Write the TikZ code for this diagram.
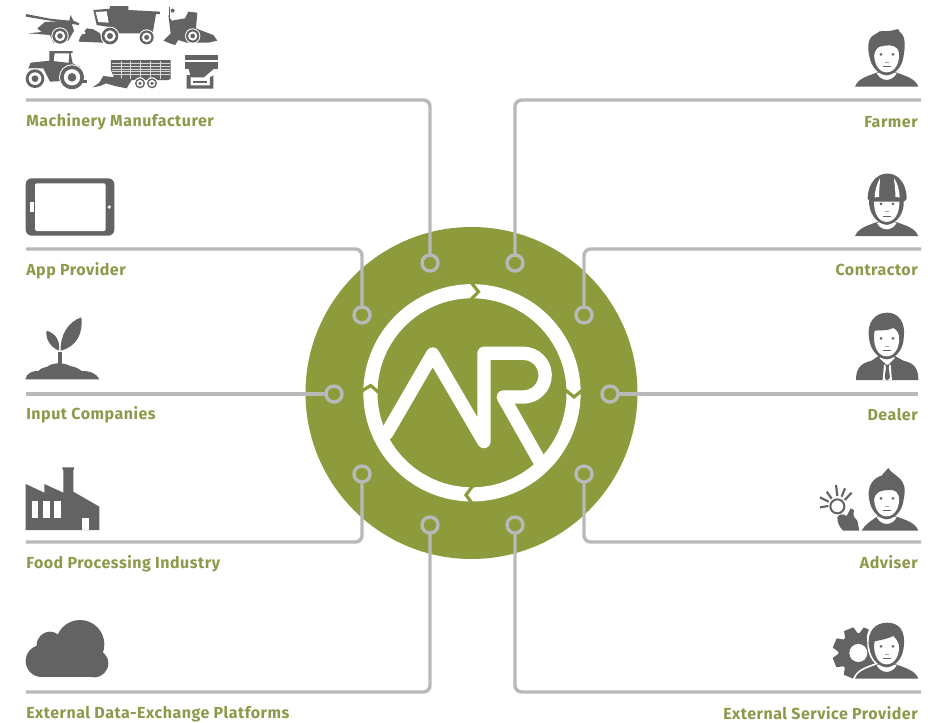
\documentclass[tikz,border=0pt]{standalone}
\usepackage{fontspec}
\setmainfont{Fira Sans}[LetterSpace=3.2]
\definecolor{olive}{HTML}{8E9B3D}
\definecolor{wire}{HTML}{B9B9B9}
\definecolor{ic}{HTML}{636363}
\definecolor{lab}{HTML}{8B9B4B}
\tikzset{
  conn/.style={draw=wire,line width=2.6pt,rounded corners=5pt},
  ringn/.style={circle,draw=wire,line width=2.5pt,minimum size=12pt,inner sep=0pt,outer sep=0pt},
  lableft/.style={anchor=base west,text=lab,inner sep=0pt,font=\fontsize{12}{14}\selectfont\bfseries},
  labright/.style={anchor=base east,text=lab,inner sep=0pt,font=\fontsize{12}{14}\selectfont\bfseries},
  logo/.style={draw=white,line width=10pt,line cap=round,line join=round},
  notch/.style={draw=olive,line width=2.4pt,line join=miter}
}
\newcommand{\wheelB}[3]{%
  \fill[white] (#1,#2) circle ({#3+3});
  \fill[ic] (#1,#2) circle (#3);
  \fill[white] (#1,#2) circle ({#3*0.68});
  \fill[ic] (#1,#2) circle ({#3*0.36});
}
\newcommand{\faceB}[1]{%
  \fill[ic] (207,120) .. controls (205,160) and (230,194) .. (260,196) .. controls (290,194) and (315,160) .. (311,120) -- cycle;
  \fill[white] (222,120) .. controls (220,165) and (238,187) .. (260,187) .. controls (282,187) and (300,165) .. (298,120) .. controls (298,98) and (222,98) .. (222,120) -- cycle;
  #1
  \fill[ic] (243,133) circle (4.5);
  \fill[ic] (279,133) circle (4.5);
  \fill[ic!60] (255,155) rectangle (267,157);
  \fill[ic] (250,169) rectangle (272,172);
}
\newcommand{\bodyB}{%
  \fill[ic] (165,230) .. controls (175,204) and (205,198) .. (232,187) -- (288,187) .. controls (315,198) and (345,204) .. (355,230) -- cycle;
  \fill[white] (230,190) .. controls (245,216) and (275,216) .. (290,190) -- (270,185) -- (250,185) -- cycle;
}
\begin{document}
\begin{tikzpicture}[x=0.75pt,y=-0.75pt]
\path[use as bounding box,fill=white] (0,0) rectangle (936,722);

% central disc
\fill[olive] (471.5,393) circle (166);
\draw[white,line width=10.6pt] (472,392.8) circle (101.6);
% AR logo
\draw[logo] (386.7,433.3) -- (432.7,354) -- (484,441.7) -- (484,353.3) -- (523.3,353.3)
  arc[start angle=-90,end angle=90,radius=21.85] -- (503.3,397) -- (540,461.7);
% chevrons in the ring
\draw[notch] (471.5,283) -- (478.5,291.7) -- (469.5,301);
\draw[notch] (565.5,390) -- (574,397) -- (582.5,390);
\draw[notch] (473,485.5) -- (466,495) -- (473,504.5);
\draw[notch] (361,391.5) -- (370.7,385.5) -- (380,393.5);

% connector ends
\coordinate (c1) at (26,100);
\coordinate (c2) at (26,249);
\coordinate (c3) at (26,394);
\coordinate (c4) at (26,542);
\coordinate (c5) at (26,692);
\coordinate (c6) at (921,100);
\coordinate (c7) at (921,249);
\coordinate (c8) at (918,394);
\coordinate (c9) at (921,542);
\coordinate (c10) at (921,692);
% ring nodes
\node[ringn] (r1) at (430,263) {};
\node[ringn] (r2) at (362,315) {};
\node[ringn] (r3) at (334,394) {};
\node[ringn] (r4) at (362,474) {};
\node[ringn] (r5) at (430,525) {};
\node[ringn] (r6) at (515,263) {};
\node[ringn] (r7) at (584,315) {};
\node[ringn] (r8) at (610,394) {};
\node[ringn] (r9) at (584,474) {};
\node[ringn] (r10) at (515,525) {};
% connectors
\draw[conn] (c1) -| (r1.north);
\draw[conn] (c2) -| (r2.north);
\draw[conn] (c3) -- (r3.west);
\draw[conn] (c4) -| (r4.south);
\draw[conn] (c5) -| (r5.south);
\draw[conn] (c6) -| (r6.north);
\draw[conn] (c7) -| (r7.north);
\draw[conn] (c8) -- (r8.east);
\draw[conn] (c9) -| (r9.south);
\draw[conn] (c10) -| (r10.south);

% labels
\node[lableft] (l1) at (26,126.5) {Machinery Manufacturer};
\node[lableft] (l2) at (26,275) {App Provider};
\node[lableft] (l3) at (26,419) {Input Companies};
\node[lableft] (l4) at (26,568) {Food Processing Industry};
\node[lableft] (l5) at (26,718) {External Data-Exchange Platforms};
\node[labright] (l6) at (918,127) {Farmer};
\node[labright] (l7) at (918,275) {Contractor};
\node[labright] (l8) at (918,420) {Dealer};
\node[labright] (l9) at (918,568) {Adviser};
\node[labright] (l10) at (918,719) {External Service Provider};

% machinery icons
\begin{scope}[scale=1/3]
  % sprayer
  \fill[ic] (78,42) -- (150,56) -- (208,62) -- (212,45) -- (220,62) -- (238,70) -- (236,75) -- (150,62) -- (78,50) -- cycle;
  \fill[ic] (85,100) -- (125,96) -- (112,85) -- (135,66) -- (212,62) -- (222,92) -- (205,122) -- (160,128) -- (150,105) -- cycle;
  \wheelB{180}{108}{23}
  % combine
  \fill[ic] (280,30) -- (330,26) -- (330,18) -- (385,18) -- (385,30) -- (480,35) -- (480,42) -- (468,42) -- (458,100) -- (345,100) -- (335,82) -- (290,75) -- cycle;
  \fill[white] (287,36) -- (320,34) -- (326,68) -- (295,66) -- cycle;
  \fill[ic] (236,125) -- (240,112) -- (260,85) -- (280,88) -- (300,100) -- (310,128) -- cycle;
  \fill[white] (252,98) circle (5);
  \wheelB{330}{108}{25}
  \wheelB{440}{112}{21}
  % planter
  \fill[ic] (505,45) -- (515,62) -- (555,55) -- (565,35) -- (592,38) -- (588,85) -- (600,90) -- (640,105) -- (652,122) -- (625,128) -- (560,128) -- (535,120) -- (525,135) -- (510,130) -- (490,122) -- (512,100) -- cycle;
  \fill[ic] (506,20) rectangle (510,50);
  \fill[ic] (518,32) circle (6);
  \wheelB{578}{108}{20}
  % tractor
  \fill[ic] (148,153) -- (218,153) -- (218,158) -- (212,160) -- (220,200) -- (205,200) -- (208,160) -- (164,160) -- (160,190) -- (148,190) -- cycle;
  \fill[ic] (85,205) -- (92,188) -- (150,182) -- (218,190) -- (240,200) -- (245,240) -- (150,245) -- (130,205) -- cycle;
  \wheelB{105}{236}{28}
  \wheelB{216}{232}{36}
  \fill[ic] (245,240) rectangle (262,250);
  % baler wagon
  \fill[ic] (333,180) -- (512,180) -- (512,236) -- (505,240) -- (345,240) -- (333,210) -- cycle;
  \foreach \yy in {190,198,206,214,222} {\fill[white!75!ic] (335,\yy) rectangle (510,\yy+2);}
  \foreach \xx in {362,390,420,450,480} {\fill[white!75!ic] (\xx,182) rectangle (\xx+2,236);}
  \fill[ic] (278,262) -- (298,248) -- (310,228) -- (345,232) -- (395,240) -- (380,265) -- (345,258) -- (318,250) -- (300,258) -- cycle;
  \wheelB{420}{250}{15}
  \wheelB{456}{250}{15}
  % hopper
  \fill[ic] (555,164) rectangle (653,180);
  \fill[ic] (555,187) rectangle (653,206);
  \fill[ic] (566,206) -- (642,206) -- (612,232) -- (572,232) -- cycle;
  \fill[ic] (560,225) -- (572,225) -- (572,256) -- (630,256) -- (630,232) -- (640,226) -- (640,266) -- (560,266) -- cycle;
  \fill[ic] (580,243) rectangle (620,248);
\end{scope}

% tablet
\begin{scope}[shift={(15,170)},scale=1/3]
  \fill[ic,rounded corners=4.5pt] (32,25) rectangle (298,197);
  \fill[white,rounded corners=1.5pt] (60,40) rectangle (272,183);
  \fill[white] (44,97) rectangle (57,127);
  \fill[white] (283,111) circle (5.5);
\end{scope}

% plant and factory
\begin{scope}[shift={(10,300)},scale=1/3]
  \fill[ic] (46,238) .. controls (50,218) and (70,212) .. (85,213) .. controls (95,200) and (110,205) .. (120,195) .. controls (135,188) and (165,188) .. (180,198) .. controls (195,200) and (205,205) .. (215,213) .. controls (240,212) and (262,222) .. (268,238) -- cycle;
  \fill[ic] (145,155) rectangle (155,200);
  \fill[ic] (152,152) .. controls (150,105) and (175,65) .. (214,52) .. controls (220,100) and (200,140) .. (152,152) -- cycle;
  \fill[ic] (146,152) .. controls (120,140) and (105,115) .. (110,92) .. controls (135,100) and (152,120) .. (146,152) -- cycle;
  \fill[ic] (47,552) -- (103,578) -- (103,552) -- (160,578) -- (160,512) -- (156,502) -- (193,502) -- (190,512) -- (190,575) -- (268,620) -- (268,690) -- (47,690) -- cycle;
  \fill[white] (65,603) rectangle (85,655);
  \fill[white] (100,603) rectangle (120,655);
  \fill[white] (133,603) rectangle (153,655);
  \fill[white] (215,655) rectangle (237,690);
\end{scope}

% cloud
\begin{scope}[shift={(15,610)},scale=1/3]
  \fill[ic] (195,103) circle (73);
  \fill[ic] (105,105) circle (40);
  \fill[ic] (80,153) circle (48);
  \fill[ic] (238,160) circle (42);
  \fill[ic] (80,130) rectangle (238,201);
\end{scope}

% farmer
\begin{scope}[shift={(800,10)},scale=1/3]
  \bodyB
  \faceB{\fill[ic] (207,135) .. controls (200,95) and (210,78) .. (230,70) .. controls (238,58) and (262,66) .. (275,62) .. controls (288,58) and (300,54) .. (298,64) .. controls (314,75) and (318,100) .. (311,135) -- (298,140) .. controls (298,118) and (290,108) .. (270,106) .. controls (250,108) and (225,103) .. (222,140) -- cycle;}
\end{scope}

% contractor
\begin{scope}[shift={(800,159.5)},scale=1/3]
  \bodyB
  \faceB{\fill[ic] (203,118) .. controls (203,70) and (232,42) .. (262,42) .. controls (295,42) and (320,72) .. (320,118) -- (312,126) -- (210,126) -- cycle;
  \fill[white] (240,56) .. controls (230,75) and (224,95) .. (224,114) -- (237,112) .. controls (237,92) and (240,72) .. (240,56) -- cycle;
  \fill[white] (282,56) .. controls (283,72) and (287,92) .. (286,112) -- (299,114) .. controls (299,95) and (293,72) .. (282,56) -- cycle;}
\end{scope}

% dealer
\begin{scope}[shift={(800,294)},scale=1/3]
  \fill[ic] (168,258) .. controls (168,225) and (180,208) .. (215,200) -- (235,186) -- (285,186) -- (310,200) .. controls (345,208) and (355,225) .. (355,258) -- cycle;
  \fill[white] (238,192) -- (262,214) -- (285,192) -- (272,185) -- (250,185) -- cycle;
  \fill[white] (252,212) -- (248,258) -- (276,258) -- (272,212) -- cycle;
  \fill[ic] (256,212) -- (268,212) -- (266,222) -- (270,250) -- (264,258) -- (258,258) -- (254,250) -- (258,222) -- cycle;
  \faceB{\fill[ic] (207,130) .. controls (200,85) and (225,56) .. (262,56) .. controls (295,56) and (318,85) .. (311,130) -- (298,138) .. controls (298,118) and (292,108) .. (280,102) .. controls (260,112) and (235,108) .. (224,110) .. controls (222,118) and (222,125) .. (222,138) -- cycle;}
\end{scope}

% adviser
\begin{scope}[shift={(800,454)},scale=1/3]
  \fill[ic] (185,230) .. controls (195,210) and (215,200) .. (232,187) -- (288,187) .. controls (315,198) and (345,204) .. (355,230) -- cycle;
  \fill[white] (230,190) .. controls (245,216) and (275,216) .. (290,190) -- (270,185) -- (250,185) -- cycle;
  \faceB{\fill[ic] (207,135) .. controls (200,95) and (222,70) .. (245,65) .. controls (250,55) and (260,50) .. (265,42) .. controls (272,55) and (285,60) .. (295,70) .. controls (314,85) and (318,105) .. (311,135) -- (298,140) .. controls (298,115) and (285,105) .. (265,108) .. controls (245,110) and (225,110) .. (222,140) -- cycle;}
  % bulb and hand
  \draw[ic,line width=1.5pt] (112,157) circle (21);
  \draw[ic,line width=1.6pt] (60,130) -- (86,143);
  \draw[ic,line width=1.6pt] (80,113) -- (95,134);
  \draw[ic,line width=1.6pt] (108,93) -- (112,126);
  \draw[ic,line width=1.6pt] (135,103) -- (125,128);
  \draw[ic,line width=1.6pt] (155,116) -- (134,138);
  \draw[ic,line width=1.6pt] (60,160) -- (85,156);
  \fill[ic] (112,190) .. controls (118,178) and (130,180) .. (140,186) -- (152,163) -- (162,168) .. controls (160,180) and (158,188) .. (172,200) -- (178,230) -- (130,230) .. controls (118,220) and (112,205) .. (112,190) -- cycle;
\end{scope}

% service provider
\begin{scope}[shift={(800,602)},scale=1/3]
  \fill[ic] (175,153) circle (60);
  \foreach \a in {0,45,...,315} {
    \fill[ic,rotate around={\a+22:(175,153)}] (160,76) -- (190,76) -- (197,105) -- (153,105) -- cycle;
  }
  \fill[white] (175,153) circle (27);
  \draw[white,line width=2.6pt,fill=white] (165,230) .. controls (175,204) and (205,198) .. (232,187) -- (288,187) .. controls (315,198) and (345,204) .. (355,230) -- cycle;
  \draw[white,line width=2.6pt,fill=white] (207,120) .. controls (205,160) and (230,194) .. (260,196) .. controls (290,194) and (315,160) .. (311,120) .. controls (318,80) and (292,62) .. (260,62) .. controls (228,62) and (200,80) .. (207,120) -- cycle;
  \bodyB
  \faceB{\fill[ic] (207,135) .. controls (200,85) and (228,62) .. (262,62) .. controls (296,62) and (318,85) .. (311,135) -- (298,140) .. controls (298,122) and (290,112) .. (280,102) .. controls (260,112) and (235,115) .. (224,118) .. controls (222,125) and (222,130) .. (222,140) -- cycle;}
\end{scope}
\end{tikzpicture}
\end{document}
